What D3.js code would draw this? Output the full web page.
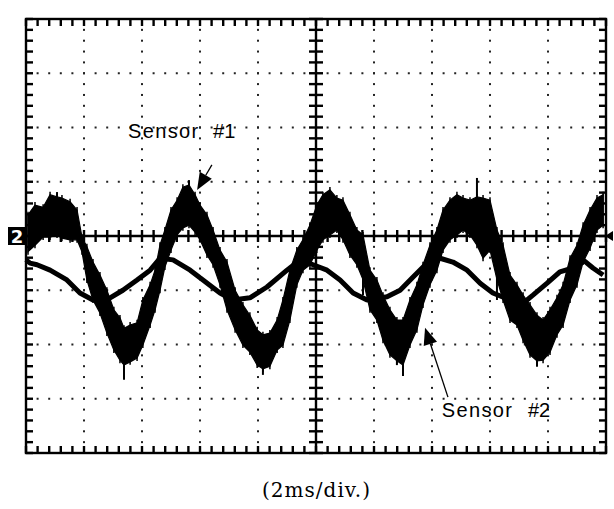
<!DOCTYPE html>
<html>
<head>
<meta charset="utf-8">
<script src="https://cdn.jsdelivr.net/npm/d3@7"></script>
<style>
  body { margin: 0; background: #fff; }
  svg { display: block; }
</style>
</head>
<body>
<div id="scope"></div>
<script>
let width = 614,
	height = 509;

// time in ms (2 ms/div, 10 div), amplitude in divisions
let xDomain = [0, 20],
	yDomain = [-4, 4];

// Sensor #1 : noisy trace, read as upper / lower edge of the band
let s1Time = [0.07, 0.31, 0.59, 0.83, 1.07, 1.24, 1.52, 1.76, 1.93, 2.10,
	2.31, 2.55, 2.79, 3.03, 3.24, 3.38, 3.59, 3.83, 4.03, 4.28,
	4.45, 4.62, 4.79, 5.00, 5.21, 5.41, 5.62, 5.83, 6.00, 6.24,
	6.45, 6.69, 6.93, 7.21, 7.48, 7.72, 7.97, 8.17, 8.41, 8.66,
	8.86, 9.10, 9.34, 9.55, 9.79, 10.03, 10.24, 10.48, 10.72, 10.93,
	11.17, 11.41, 11.62, 11.86, 12.10, 12.31, 12.55, 12.79, 13.00, 13.24,
	13.48, 13.69, 13.93, 14.17, 14.38, 14.62, 14.86, 15.07, 15.31, 15.55,
	15.76, 16.00, 16.24, 16.45, 16.69, 16.93, 17.14, 17.38, 17.62, 17.83,
	18.07, 18.31, 18.52, 18.76, 19.00, 19.21, 19.45, 19.69, 19.90];

let s1High = [0.39, 0.57, 0.53, 0.76, 0.72, 0.70, 0.63, 0.48, -0.02, -0.20,
	-0.48, -0.72, -1.00, -1.36, -1.51, -1.70, -1.64, -1.60, -1.18, -0.90,
	-0.63, -0.17, 0.11, 0.48, 0.66, 0.90, 0.94, 0.76, 0.57, 0.39,
	0.11, -0.26, -0.48, -1.00, -1.27, -1.46, -1.73, -1.82, -1.79, -1.55,
	-1.18, -0.63, -0.26, -0.07, 0.20, 0.57, 0.76, 0.85, 0.70, 0.66,
	0.39, 0.11, 0.02, -0.63, -0.81, -1.09, -1.36, -1.55, -1.55, -1.18,
	-0.90, -0.53, -0.17, 0.11, 0.48, 0.66, 0.76, 0.70, 0.66, 0.72,
	0.70, 0.66, 0.11, -0.17, -0.72, -0.90, -1.09, -1.27, -1.46, -1.55,
	-1.36, -1.14, -0.90, -0.41, -0.17, 0.20, 0.48, 0.70, 0.76];

let s1Low = [-0.29, -0.17, -0.02, -0.02, 0.02, -0.04, -0.07, -0.07, -0.29, -0.81,
	-1.18, -1.42, -1.79, -2.10, -2.29, -2.38, -2.32, -2.25, -2.01, -1.64,
	-1.36, -1.00, -0.57, -0.26, 0.02, 0.15, 0.20, 0.07, -0.07, -0.35,
	-0.53, -0.90, -1.36, -1.73, -2.01, -2.14, -2.38, -2.45, -2.40, -2.10,
	-2.01, -1.55, -0.90, -0.63, -0.53, -0.26, -0.07, 0.02, 0.11, -0.07,
	-0.35, -0.53, -0.80, -1.36, -1.55, -1.92, -2.19, -2.30, -2.38, -2.01,
	-1.73, -1.27, -0.90, -0.63, -0.26, -0.07, 0.02, 0.11, 0.02, -0.17,
	-0.41, -0.26, -0.80, -1.18, -1.55, -1.64, -1.92, -2.19, -2.30, -2.29,
	-2.14, -1.82, -1.64, -1.18, -0.90, -0.48, -0.22, 0.11, 0.20];

// single noise spikes that stick out of the band: time, from, to
let spikeTime = [1.07, 3.38, 5.62, 8.17, 11.62, 13.00, 15.55, 16.24, 17.62, 12.79];
let spikeFrom = [0.60, -2.20, 0.90, -2.30, -0.40, -2.20, 0.60, -0.60, -2.20, -2.10];
let spikeTo = [0.81, -2.65, 1.03, -2.56, -1.09, -2.58, 1.07, -1.18, -2.41, -2.38];

// Sensor #2 : smoother trace
let s2Time = [0, 0.14, 0.38, 0.83, 1.41, 1.86, 2.31, 2.90, 3.34, 3.83,
	4.28, 4.62, 5.07, 5.66, 6.00, 6.69, 7.14, 7.72, 8.31, 9.00,
	9.45, 9.90, 10.38, 10.83, 11.28, 11.76, 12.45, 12.90, 13.34, 13.83,
	14.28, 14.72, 15.21, 15.66, 16.10, 16.69, 17.14, 17.48, 17.97, 18.41,
	18.86, 19.21, 19.55, 19.90];

let s2Value = [-0.44, -0.50, -0.53, -0.63, -0.81, -1.05, -1.18, -1.14, -1.00, -0.81,
	-0.63, -0.41, -0.44, -0.63, -0.77, -1.05, -1.18, -1.14, -0.94, -0.63,
	-0.44, -0.53, -0.63, -0.81, -1.05, -1.18, -1.12, -1.00, -0.76, -0.50,
	-0.41, -0.48, -0.63, -0.87, -1.05, -1.18, -1.24, -1.09, -0.87, -0.66,
	-0.59, -0.44, -0.59, -0.72];

// annotations: label anchor and arrow (tail -> tip), in ms / div
let labels = [
	{ name: "Sensor", tag: "#1", at: [3.52, 1.80], tagAt: 6.45, tail: [6.41, 1.31], tip: [5.90, 0.85] },
	{ name: "Sensor", tag: "#2", at: [14.34, -3.33], tagAt: 17.31, tail: [14.55, -2.97], tip: [13.76, -1.69] }
];

let caption = "(2ms/div.)";

let margin = { left: 26, top: 19 },
	plotW = 580,
	plotH = 434;

let svg = d3.select('#scope').append('svg')
	.attr('width', width)
	.attr('height', height)

let x = d3.scaleLinear().domain(xDomain).range([margin.left, margin.left + plotW]);
let y = d3.scaleLinear().domain(yDomain).range([margin.top + plotH, margin.top]);

// dotted graticule: dot at every minor (0.2 div) step on each major line
let minorT = d3.range(0, 20.001, 0.4);
let minorV = d3.range(-4, 4.001, 0.2);
let majorT = d3.range(2, 20, 2).filter(function (d) { return d !== 10 });
let majorV = d3.range(-3, 4, 1).filter(function (d) { return d !== 0 });

let dots = [];
majorT.forEach(function (t) {
	minorV.forEach(function (v) { dots.push([t, v]) })
});
majorV.forEach(function (v) {
	minorT.forEach(function (t) { dots.push([t, v]) })
});

svg.append('g').selectAll('rect')
	.data(dots)
	.enter().append('rect')
	.attr('x', function (d) { return x(d[0]) - 1 })
	.attr('y', function (d) { return y(d[1]) - 1 })
	.attr('width', 2)
	.attr('height', 2)
	.attr('fill', '#222');

// border
svg.append('rect')
	.attr('x', x(0)).attr('y', y(4))
	.attr('width', x(20) - x(0)).attr('height', y(-4) - y(4))
	.attr('fill', 'none').attr('stroke', '#000').attr('stroke-width', 2.4);

// centre axes with crossing ticks, plus inward ticks on the border
let ticks = svg.append('g').attr('stroke', '#000').attr('stroke-width', 2.4);

ticks.append('line')
	.attr('x1', x(0)).attr('x2', x(20)).attr('y1', y(0)).attr('y2', y(0));
ticks.append('line')
	.attr('x1', x(10)).attr('x2', x(10)).attr('y1', y(4)).attr('y2', y(-4));

minorT.forEach(function (t) {
	ticks.append('line').attr('x1', x(t)).attr('x2', x(t)).attr('y1', y(0) - 6).attr('y2', y(0) + 6);
	ticks.append('line').attr('x1', x(t)).attr('x2', x(t)).attr('y1', y(4)).attr('y2', y(4) + 7);
	ticks.append('line').attr('x1', x(t)).attr('x2', x(t)).attr('y1', y(-4)).attr('y2', y(-4) - 7);
});
minorV.forEach(function (v) {
	ticks.append('line').attr('x1', x(10) - 7).attr('x2', x(10) + 7).attr('y1', y(v)).attr('y2', y(v));
	ticks.append('line').attr('x1', x(0)).attr('x2', x(0) + 7).attr('y1', y(v)).attr('y2', y(v));
	ticks.append('line').attr('x1', x(20)).attr('x2', x(20) - 7).attr('y1', y(v)).attr('y2', y(v));
});

// channel marker on the left, trigger marker on the right
svg.append('rect')
	.attr('x', x(0) - 18).attr('y', y(0) - 9)
	.attr('width', 18).attr('height', 18)
	.attr('fill', '#000');
svg.append('text')
	.attr('x', x(0) - 9).attr('y', y(0) + 7)
	.attr('text-anchor', 'middle')
	.attr('font-family', 'DejaVu Sans, sans-serif')
	.attr('font-weight', 'bold')
	.attr('font-size', 18)
	.attr('fill', '#fff')
	.text('2');
svg.append('path')
	.attr('d', 'M' + (x(20) - 1) + ',' + y(0) + 'L' + (x(20) + 7) + ',' + (y(0) - 5) + 'L' + (x(20) + 7) + ',' + (y(0) + 5) + 'Z')
	.attr('fill', '#000');

// Sensor #1 band
let s1 = s1Time.map(function (t, i) { return { t: t, hi: s1High[i], lo: s1Low[i] } });

let band = d3.area()
	.x(function (d) { return x(d.t) })
	.y0(function (d) { return y(d.lo) })
	.y1(function (d) { return y(d.hi) })
	.curve(d3.curveLinear);

svg.append('path')
	.datum(s1)
	.attr('d', band)
	.attr('fill', '#000')
	.attr('stroke', '#000')
	.attr('stroke-width', 1.2);

// vertical noise strokes through each sample
svg.append('g').selectAll('line')
	.data(s1)
	.enter().append('line')
	.attr('x1', function (d) { return x(d.t) })
	.attr('x2', function (d) { return x(d.t) })
	.attr('y1', function (d) { return y(d.hi) - 3 })
	.attr('y2', function (d) { return y(d.lo) + 3 })
	.attr('stroke', '#000')
	.attr('stroke-width', 1.5);

let spikes = spikeTime.map(function (t, i) { return { t: t, a: spikeFrom[i], b: spikeTo[i] } });

svg.append('g').selectAll('line')
	.data(spikes)
	.enter().append('line')
	.attr('x1', function (d) { return x(d.t) })
	.attr('x2', function (d) { return x(d.t) })
	.attr('y1', function (d) { return y(d.a) })
	.attr('y2', function (d) { return y(d.b) })
	.attr('stroke', '#000')
	.attr('stroke-width', 2);

// Sensor #2 trace
let s2 = s2Time.map(function (t, i) { return { t: t, v: s2Value[i] } });

svg.append('path')
	.datum(s2)
	.attr('d', d3.line()
		.x(function (d) { return x(d.t) })
		.y(function (d) { return y(d.v) }))
	.attr('fill', 'none')
	.attr('stroke', '#000')
	.attr('stroke-width', 5)
	.attr('stroke-linejoin', 'bevel');

// labels and arrows
let lab = svg.append('g')
	.attr('font-family', 'Liberation Sans, Arial, sans-serif')
	.attr('font-size', 20)
	.attr('fill', '#000');

labels.forEach(function (d) {
	lab.append('text').attr('x', x(d.at[0])).attr('y', y(d.at[1]))
		.attr('textLength', 70).text(d.name);
	lab.append('text').attr('x', x(d.tagAt)).attr('y', y(d.at[1])).text(d.tag);

	let x1 = x(d.tail[0]), y1 = y(d.tail[1]), x2 = x(d.tip[0]), y2 = y(d.tip[1]);
	let a = Math.atan2(y2 - y1, x2 - x1), L = 17, w = 7;
	let bx = x2 - L * Math.cos(a), by = y2 - L * Math.sin(a);
	svg.append('line')
		.attr('x1', x1).attr('y1', y1).attr('x2', bx).attr('y2', by)
		.attr('stroke', '#000').attr('stroke-width', 1.3);
	svg.append('path')
		.attr('d', 'M' + x2 + ',' + y2 +
			'L' + (bx + w * Math.sin(a)) + ',' + (by - w * Math.cos(a)) +
			'L' + (bx - w * Math.sin(a)) + ',' + (by + w * Math.cos(a)) + 'Z')
		.attr('fill', '#000');
});

// caption
svg.append('text')
	.attr('x', x(10))
	.attr('y', 497)
	.attr('text-anchor', 'middle')
	.attr('font-family', 'DejaVu Serif, serif')
	.attr('font-size', 20)
	.attr('textLength', 108)
	.attr('fill', '#000')
	.text(caption);
</script>
</body>
</html>
